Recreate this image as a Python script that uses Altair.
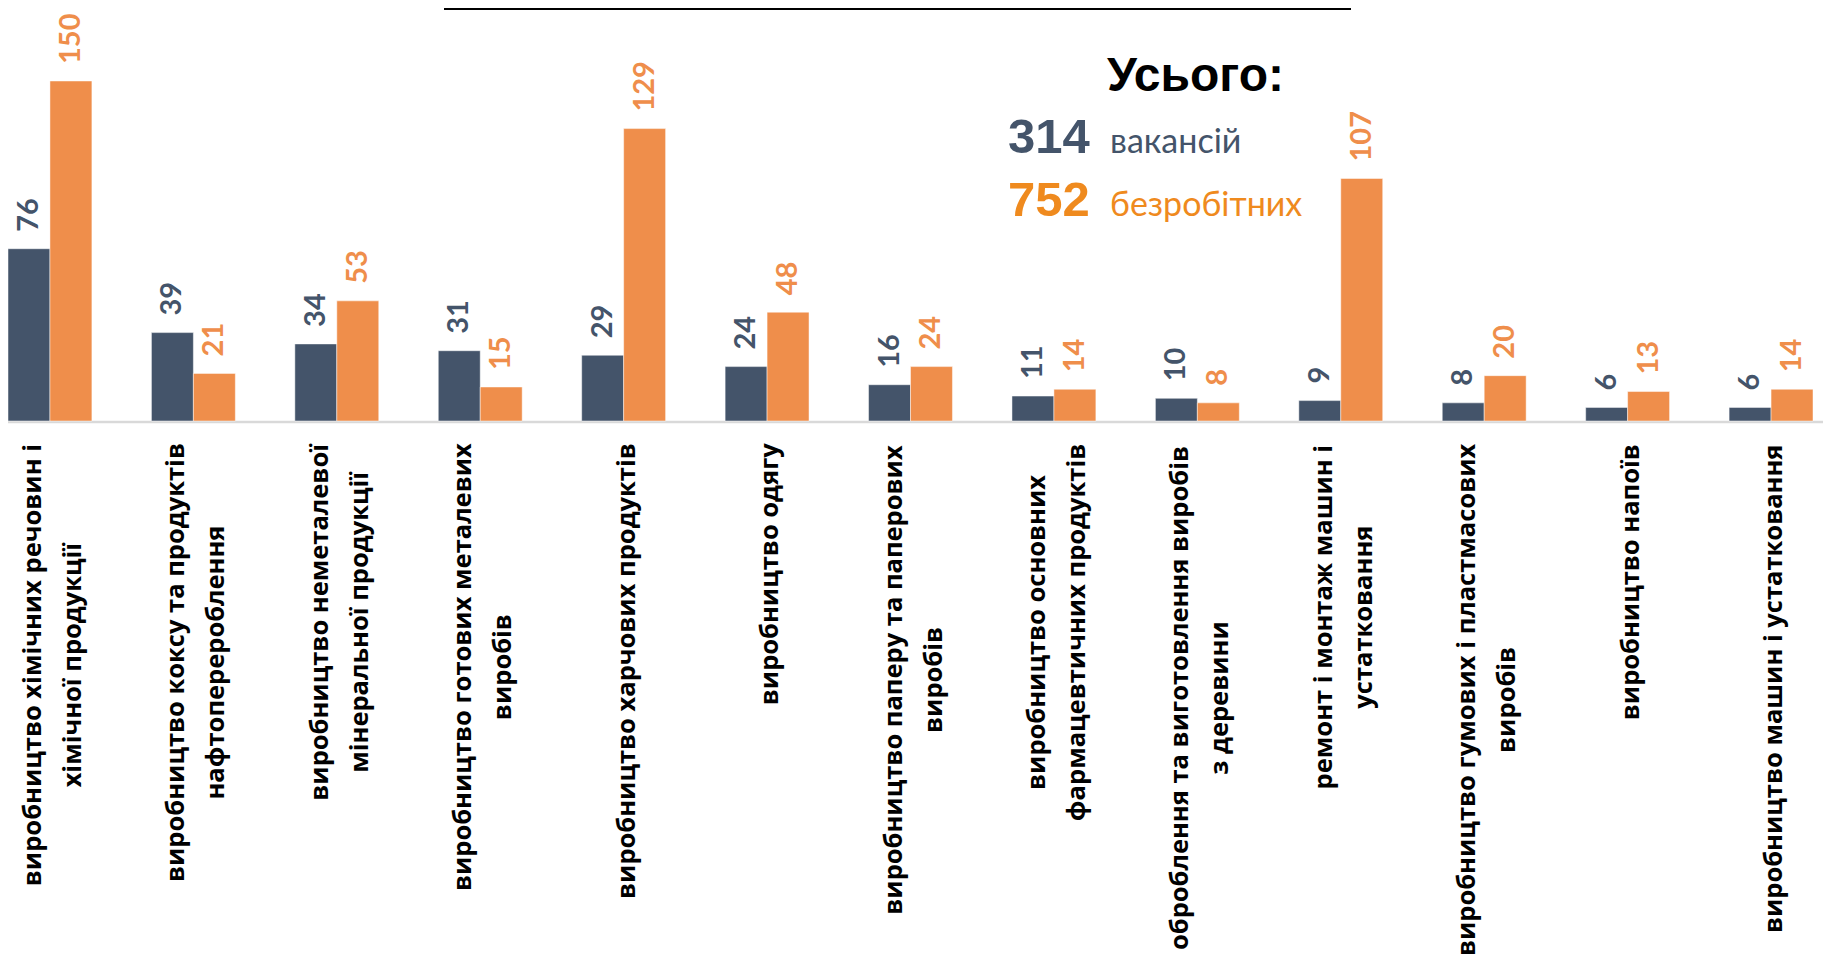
import altair as alt
import pandas as pd

# ---------------- data ----------------
categories = [
    "виробництво хімічних речовин і\nхімічної продукції",
    "виробництво коксу та продуктів\nнафтоперероблення",
    "виробництво неметалевої\nмінеральної продукції",
    "виробництво готових металевих\nвиробів",
    "виробництво харчових продуктів",
    "виробництво одягу",
    "виробництво паперу та паперових\nвиробів",
    "виробництво основних\nфармацевтичних продуктів",
    "оброблення та виготовлення виробів\nз деревини",
    "ремонт і монтаж машин і\nустатковання",
    "виробництво гумових і пластмасових\nвиробів",
    "виробництво напоїв",
    "виробництво машин і устатковання",
]
vacancies = [76, 39, 34, 31, 29, 24, 16, 11, 10, 9, 8, 6, 6]
unemployed = [150, 21, 53, 15, 129, 48, 24, 14, 8, 107, 20, 13, 14]
series_names = ["вакансій", "безробітних"]
total_vacancies = 314
total_unemployed = 752
total_title = "Усього:"

# ---------------- style ----------------
DARK = "#44546A"
ORANGE_BAR = "#EF8E4B"
ORANGE_TXT = "#EF8A1E"
LABEL_FONT = "Open Sans"
LABEL_SIZE = 25.5
LINE_H = 40
PLOT_W = 1805
PLOT_H = 413

# rough advance widths (em) of a bold humanist sans, used to top-anchor the rotated labels
_w = {
    "а": .60, "б": .62, "в": .63, "г": .49, "д": .63, "е": .60, "є": .58, "ж": .96,
    "з": .54, "и": .70, "і": .31, "ї": .31, "й": .70, "к": .62, "л": .68, "м": .83,
    "н": .70, "о": .62, "п": .70, "р": .63, "с": .52, "т": .54, "у": .57, "ф": .86,
    "х": .59, "ц": .71, "ч": .66, "ш": 1.0, "щ": 1.02, "ь": .62, "ю": .93, "я": .62, " ": .26,
}


def est_width(s, size):
    return sum(_w.get(ch, .62) for ch in s) * size


bars_df = pd.DataFrame(
    [{"cat": c, "series": series_names[0], "value": v} for c, v in zip(categories, vacancies)]
    + [{"cat": c, "series": series_names[1], "value": v} for c, v in zip(categories, unemployed)]
)

LABEL_TOP = 435
labels_df = pd.DataFrame(
    {
        "cat": categories,
        "nlines": [len(c.split("\n")) for c in categories],
        "ypix": [LABEL_TOP + max(est_width(l, LABEL_SIZE) for l in c.split("\n")) / 2 for c in categories],
    }
)

x_enc = alt.X(
    "cat:N",
    sort=categories,
    scale=alt.Scale(paddingInner=0.415, paddingOuter=0),
    axis=None,
)
xoff_enc = alt.XOffset("series:N", sort=series_names, scale=alt.Scale(paddingInner=0, paddingOuter=0))
y_enc = alt.Y("value:Q", scale=alt.Scale(domain=[0, 182.2], nice=False, zero=True), axis=None)
color_enc = alt.Color("series:N", sort=series_names,
                      scale=alt.Scale(domain=series_names, range=[DARK, ORANGE_BAR]), legend=None)

baseline = alt.Chart(pd.DataFrame({"a": [0]})).mark_rule(color="#D9D9D9", strokeWidth=2.5).encode(
    x=alt.value(0), x2=alt.value(PLOT_W + 10), y=alt.value(PLOT_H + 1)
)

base = alt.Chart(bars_df)
bars = base.mark_bar(stroke="white", strokeWidth=0.8, strokeOpacity=0.6).encode(
    x=x_enc, xOffset=xoff_enc, y=y_enc, color=color_enc
)
values = base.mark_text(
    angle=270, align="left", baseline="middle", dx=17,
    font="Lato", fontWeight="bold", fontSize=29,
).encode(x=x_enc, xOffset=xoff_enc, y=y_enc, color=color_enc, text="value:Q")


def cat_layer(n, shift):
    return alt.Chart(labels_df).transform_filter(alt.datum.nlines == n).mark_text(
        angle=270, align="center", baseline="middle", lineBreak="\n", lineHeight=LINE_H, dy=shift,
        font=LABEL_FONT, fontWeight="bold", fontSize=LABEL_SIZE, color="black",
    ).encode(
        x=alt.X("cat:N", sort=categories),
        y=alt.Y("ypix:Q", scale=None, axis=None),
        text="cat:N",
    )


cat_labels = cat_layer(1, 3) + cat_layer(2, 3 - LINE_H / 2)

top_line = alt.Chart(pd.DataFrame({"a": [0]})).mark_rule(color="black", strokeWidth=2).encode(
    x=alt.value(436), x2=alt.value(1343), y=alt.value(1)
)


def note(text, x, y, size, color, font, weight):
    return alt.Chart(pd.DataFrame({"t": [text]})).mark_text(
        align="left", baseline="alphabetic", font=font, fontWeight=weight, fontSize=size, color=color
    ).encode(x=alt.value(x), y=alt.value(y), text="t:N")


legend = (
    note(total_title, 1099, 83, 48, "black", "Liberation Sans", "bold")
    + note(str(total_vacancies), 1000, 145, 49, DARK, "Liberation Sans", "bold")
    + note(series_names[0], 1102, 145, 34, DARK, "Lato", "normal")
    + note(str(total_unemployed), 1000, 208, 49, ORANGE_TXT, "Liberation Sans", "bold")
    + note(series_names[1], 1102, 208, 34, ORANGE_TXT, "Lato", "normal")
)

chart = (
    alt.layer(baseline, bars, values, cat_labels, top_line, legend)
    .resolve_scale(y="independent")
    .properties(
        width=PLOT_W, height=PLOT_H,
        autosize=alt.AutoSizeParams(type="none"),
        padding={"left": 0, "top": 0, "right": 10, "bottom": 533},
    )
    .configure_view(stroke=None)
)

chart.save("out.html", embed_options={"renderer": "svg", "actions": False})
